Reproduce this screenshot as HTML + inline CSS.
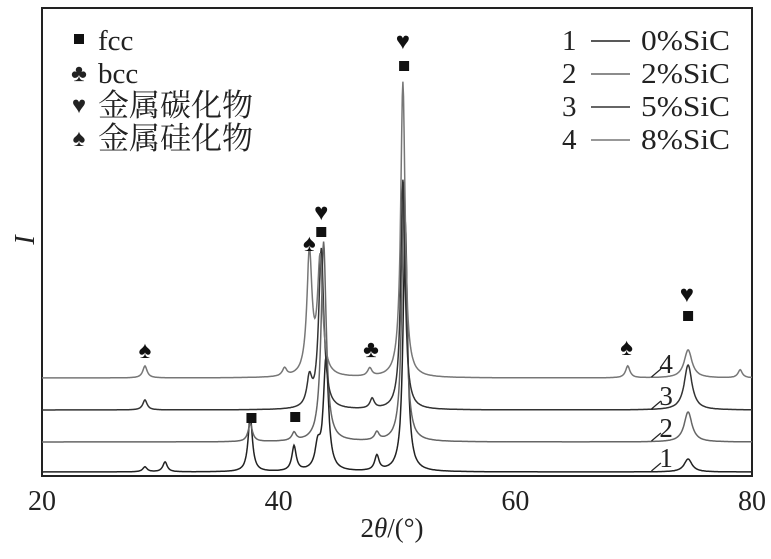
<!DOCTYPE html>
<html><head><meta charset="utf-8"><style>
body{margin:0;background:#fff;}
svg{display:block;font-family:"Liberation Serif","Noto Serif CJK SC",serif;}
</style></head><body>
<svg id="chart" width="771" height="559" viewBox="0 0 771 559">
<rect x="42" y="8" width="710" height="468" fill="none" stroke="#222" stroke-width="2"/>
<g id="curves"></g>
<g id="ticks" font-size="28" fill="#222" text-anchor="middle"></g>
<text x="392" y="537" font-size="27" text-anchor="middle" fill="#222">2<tspan font-style="italic">θ</tspan>/(°)</text>
<text x="0" y="0" transform="translate(34,240) rotate(-90)" font-size="28" font-style="italic" text-anchor="middle" fill="#222">I</text>
<g font-size="29" fill="#222">
<g><rect x="74" y="34" width="10" height="10" fill="#111"/><text x="98" y="50">fcc</text></g>
<g><text x="79" y="81" font-size="24" text-anchor="middle">♣</text><text x="98" y="83">bcc</text></g>
<g><text x="79" y="113" font-size="24" text-anchor="middle">♥</text><text x="98" y="116" font-size="31">金属碳化物</text></g>
<g><text x="79" y="146" font-size="24" text-anchor="middle">♠</text><text x="98" y="149" font-size="31">金属硅化物</text></g>
</g>
<g font-size="29" fill="#222" id="slegend"></g>
<g id="markers" fill="#111" font-size="24" text-anchor="middle"></g>
<g id="clabels" font-size="27" fill="#222"></g>
</svg>
<script>
const xTicks=[20,40,60,80];
const seriesNames=["1","2","3","4"];
const seriesLabels=["0%SiC","2%SiC","5%SiC","8%SiC"];
const seriesColors=["#222","#666","#333","#777"];
const baselines=[0,30,62,94];
const peaks1=[[28.7,5],[30.4,10],[37.6,56],[41.3,25],[43.3,22],[44.0,112],[48.3,15],[50.7,250],[74.6,13]];
const peaks2=[[37.6,18],[41.3,8],[43.8,200],[48.3,8],[50.6,260],[74.6,30]];
const peaks3=[[28.7,10],[42.6,28],[43.6,160],[47.9,10],[50.5,230],[74.6,45]];
const peaks4=[[28.7,12],[40.5,8],[42.6,122],[43.5,115],[47.7,8],[50.5,296],[69.5,12],[74.6,28],[79.0,8]];
const peakSets=[peaks1,peaks2,peaks3,peaks4];
const markers=[["♠",28.7,350],["■",37.7,418],["■",41.4,417],["♠",42.6,243],["♥",43.6,212],["■",43.6,232],["♣",47.8,349],["♥",50.5,41],["■",50.6,66],["♠",69.4,347],["♥",74.5,294],["■",74.6,316]];
const X0=42,X1=752,Y0=472;
function xs(v){return X0+(v-20)/60*(X1-X0);}
function ys(v){return Y0-v;}
function hw(a){if(a>74&&a<75)return 0.4;if(a>50&&a<51)return 0.22;if(a>42&&a<45)return 0.26;return 0.22;}
const NS="http://www.w3.org/2000/svg";
xTicks.forEach(t=>{const e=document.createElementNS(NS,"text");e.setAttribute("x",xs(t));e.setAttribute("y",510);e.textContent=t;


document.getElementById("ticks").appendChild(e);});
peakSets.forEach((pk,i)=>{let d="";for(let a=20;a<=80;a+=0.05){let v=baselines[i];pk.forEach(p=>{const w=hw(p[0]);v+=p[1]/(1+Math.pow((a-p[0])/w,2));});d+=(d?"L":"M")+xs(a).toFixed(1)+","+ys(v).toFixed(1);}
const e=document.createElementNS(NS,"path");e.setAttribute("d",d);e.setAttribute("fill","none");e.setAttribute("stroke",seriesColors[i]);e.setAttribute("stroke-width","1.5");


document.getElementById("curves").appendChild(e);
const g=document.createElementNS(NS,"g");const ly=Y0-baselines[i];
g.innerHTML='<line x1="'+(xs(71.5))+'" y1="'+(ly-1)+'" x2="'+(xs(72.3))+'" y2="'+(ly-9)+'" stroke="#222" stroke-width="1.2"/><text x="'+(xs(72.0)+2)+'" y="'+(ly-5)+'">'+seriesNames[i]+'</text>';


document.getElementById("clabels").appendChild(g);
const lg=document.createElementNS(NS,"g");const yy=50+i*33;
lg.innerHTML='<text x="562" y="'+yy+'">'+seriesNames[i]+'</text><line x1="591" y1="'+(yy-9)+'" x2="630" y2="'+(yy-9)+'" stroke="'+seriesColors[i]+'" stroke-width="1.5"/><text x="641" y="'+yy+'" textLength="89" lengthAdjust="spacingAndGlyphs">'+seriesLabels[i]+'</text>';


document.getElementById("slegend").appendChild(lg);});
markers.forEach(m=>{let e;if(m[0]==="■"){e=document.createElementNS(NS,"rect");e.setAttribute("x",xs(m[1])-5);e.setAttribute("y",m[2]-5);e.setAttribute("width",10);e.setAttribute("height",10);}
else{e=document.createElementNS(NS,"text");e.setAttribute("x",xs(m[1]));e.setAttribute("y",m[2]+8);e.textContent=m[0];}


document.getElementById("markers").appendChild(e);});
</script>
</body></html>
